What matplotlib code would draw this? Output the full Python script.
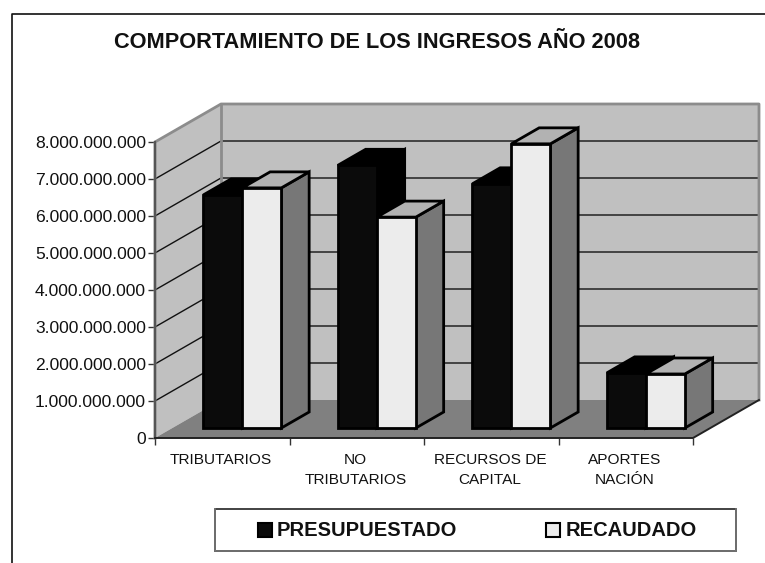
#recreate the 3D style income chart with plain matplotlib patches
import numpy as np
import matplotlib
matplotlib.use("Agg")
import matplotlib.pyplot as plt
from matplotlib.lines import Line2D
from matplotlib.patches import Polygon, Rectangle

categories = ["TRIBUTARIOS", "NO\nTRIBUTARIOS", "RECURSOS DE\nCAPITAL", "APORTES\nNACIÓN"]
presupuestado = [6.30e9, 7.10e9, 6.60e9, 1.49e9]
recaudado = [6.49e9, 5.70e9, 7.68e9, 1.46e9]
y_ticks = [0, 1e9, 2e9, 3e9, 4e9, 5e9, 6e9, 7e9, 8e9]

W, H = 765, 563
plt.rcParams['font.family'] = ['Liberation Sans', 'DejaVu Sans']

fig = plt.figure(figsize=(W / 100, H / 100), dpi=100)
#axes is the front plane of the 3D box
ax = fig.add_axes([155 / W, 1 - 438 / H, (693 - 155) / W, (438 - 142) / H])
ax.set_xlim(0, 4)
ax.set_ylim(0, 8e9)
ax.patch.set_visible(False)

dx = 66 / 134.5      #full depth in x units
dy = 38 / 37 * 1e9   #full depth in y units

def pr(x, y, d):
    return (x + d * dx, y + d * dy)

def poly(pts, fc, ec="none", lw=0, z=1):
    ax.add_patch(Polygon(pts, closed=True, facecolor=fc, edgecolor=ec, linewidth=lw,
                         zorder=z, clip_on=False, joinstyle="miter"))

#walls and floor
poly([pr(0, 0, 0), pr(0, 8e9, 0), pr(0, 8e9, 1), pr(0, 0, 1)], "#c0c0c0", z=1)
poly([pr(0, 0, 1), pr(0, 8e9, 1), pr(4, 8e9, 1), pr(4, 0, 1)], "#c0c0c0", z=1)
poly([pr(0, 0, 0), pr(4, 0, 0), pr(4, 0, 1), pr(0, 0, 1)], "#808080", z=1)

#gridlines on both walls
for t in y_ticks[1:-1]:
    ax.plot(*zip(pr(0, t, 0), pr(0, t, 1), pr(4, t, 1)), color="#111111", lw=1.0, zorder=2, clip_on=False)

#wall edges
ax.plot(*zip(pr(0, 0, 0), pr(0, 8e9, 0), pr(0, 8e9, 1), pr(4, 8e9, 1), pr(4, 0, 1)),
        color="#8c8c8c", lw=2, zorder=2, clip_on=False)
ax.plot(*zip(pr(0, 0, 1), pr(0, 8e9, 1)), color="#8c8c8c", lw=2, zorder=2, clip_on=False)
ax.plot(*zip(pr(0, 0, 0), pr(0, 8e9, 0)), color="#555555", lw=1.6, zorder=2, clip_on=False)
ax.plot(*zip(pr(0, 0, 0), pr(4, 0, 0), pr(4, 0, 1)), color="#222222", lw=1.4, zorder=2, clip_on=False)

#bars, each group sits 48 px into the category and each bar is 39 px wide
d_front = 10 / 38
d_back = 26 / 38
start = 31 / 134.5
bw = 39 / 134.5

def bar3d(x, v, front, top, side, z):
    x1 = x + bw
    poly([pr(x1, 0, d_front), pr(x1, 0, d_back), pr(x1, v, d_back), pr(x1, v, d_front)], side, "black", 2, z)
    poly([pr(x, v, d_front), pr(x1, v, d_front), pr(x1, v, d_back), pr(x, v, d_back)], top, "black", 2, z)
    poly([pr(x, 0, d_front), pr(x1, 0, d_front), pr(x1, v, d_front), pr(x, v, d_front)], front, "black", 2, z)

for i in range(len(categories)):
    bar3d(i + start, presupuestado[i], "#0b0b0b", "#000000", "#000000", 3 + i)
    bar3d(i + start + bw, recaudado[i], "#ececec", "#b2b2b2", "#777777", 3.5 + i)

#axis ticks and labels
ax.set_yticks(y_ticks)
ax.set_yticklabels([f"{int(t):,}".replace(",", ".") for t in y_ticks], fontsize=12.6)
ax.set_xticks(range(5))
ax.set_xticklabels([])
ax.tick_params(axis="y", length=5, width=1, color="#333333", pad=1.5, labelcolor="#111111")
ax.tick_params(axis="x", length=5, width=1, color="#333333")
for s in ax.spines.values():
    s.set_visible(False)
for i, c in enumerate(categories):
    ax.annotate(c, xy=(i + 0.5, 0), xytext=(-1, -10.5), textcoords="offset points", ha="center", va="top",
                fontsize=11.1, color="#111111", linespacing=1.55, annotation_clip=False)

#outer frame, only top and left show in the crop
fig.add_artist(Line2D([12 / W, 12 / W, 1], [0, 1 - 14 / H, 1 - 14 / H], transform=fig.transFigure,
                      color="#111111", lw=1.2))

#title
fig.text(377 / W, 1 - 42 / H, "COMPORTAMIENTO DE LOS INGRESOS AÑO 2008", ha="center", va="center",
         fontsize=15.7, fontweight="bold", color="#111111")

#legend box drawn by hand in figure space
fig.add_artist(Rectangle((215 / W, 1 - 551 / H), 521 / W, 42 / H, transform=fig.transFigure,
                         facecolor="white", edgecolor="#222222", linewidth=1.2))
fig.add_artist(Line2D([215 / W, 215 / W, 736 / W, 736 / W], [1 - 509 / H, 1 - 551 / H, 1 - 551 / H, 1 - 509 / H],
                      transform=fig.transFigure, color="#777777", lw=1.2))
fig.add_artist(Rectangle((258 / W, 1 - 537 / H), 14 / W, 14 / H, transform=fig.transFigure,
                         facecolor="#0b0b0b", edgecolor="black", linewidth=1.5))
fig.text(277 / W, 1 - 530 / H, "PRESUPUESTADO", ha="left", va="center", fontsize=14.5, fontweight="bold", color="#111111")
fig.add_artist(Rectangle((546 / W, 1 - 537 / H), 14 / W, 14 / H, transform=fig.transFigure,
                         facecolor="#ececec", edgecolor="black", linewidth=1.5))
fig.text(566 / W, 1 - 530 / H, "RECAUDADO", ha="left", va="center", fontsize=14.5, fontweight="bold", color="#111111")

fig.savefig("out.png", dpi=100)
